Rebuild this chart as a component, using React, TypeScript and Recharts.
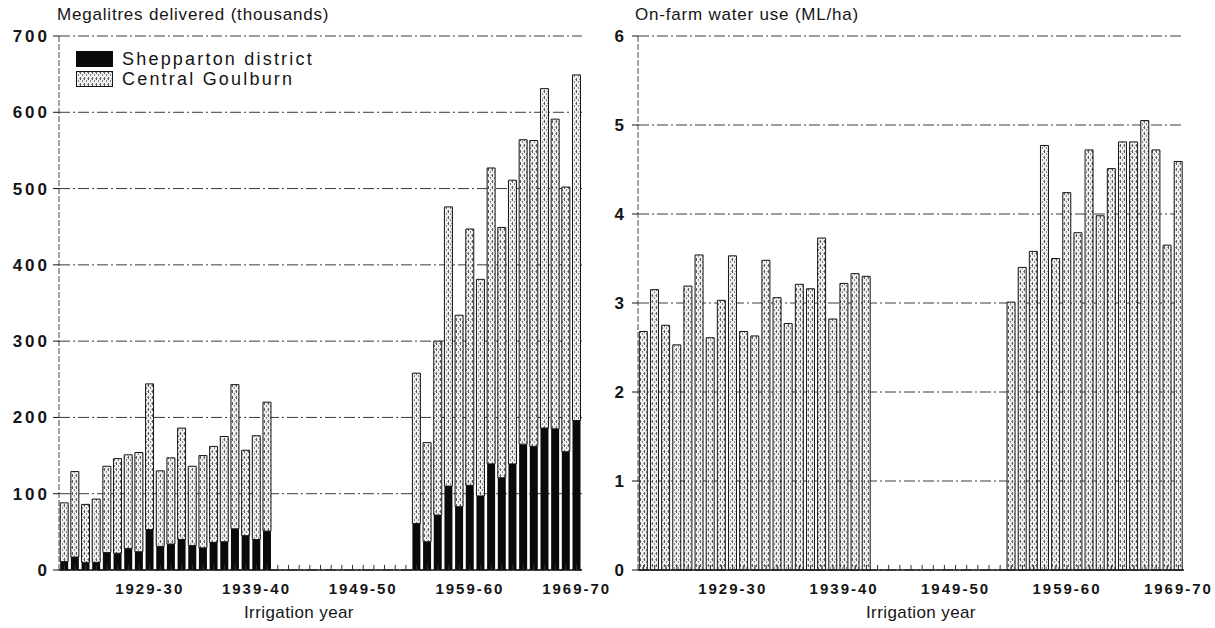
import React from 'react'
import { BarChart, Bar, XAxis, YAxis, CartesianGrid } from 'recharts'

const YEARS = [
  '1921-22', '1922-23', '1923-24', '1924-25', '1925-26', '1926-27', '1927-28', '1928-29', '1929-30', '1930-31',
  '1931-32', '1932-33', '1933-34', '1934-35', '1935-36', '1936-37', '1937-38', '1938-39', '1939-40', '1940-41',
  '1941-42', '1942-43', '1943-44', '1944-45', '1945-46', '1946-47', '1947-48', '1948-49', '1949-50', '1950-51',
  '1951-52', '1952-53', '1953-54', '1954-55', '1955-56', '1956-57', '1957-58', '1958-59', '1959-60', '1960-61',
  '1961-62', '1962-63', '1963-64', '1964-65', '1965-66', '1966-67', '1967-68', '1968-69', '1969-70',
]

const YEAR_TICKS = ['1929-30', '1939-40', '1949-50', '1959-60', '1969-70']

// thousand ML, black segment
const SHEPPARTON = [
  11, 17, 10, 10, 23, 22, 28, 24, 53, 31, 34, 40, 32, 29, 36, 37, 54, 45, 40, 51,
  null, null, null, null, null, null, null, null, null, null, null, null, null,
  61, 37, 72, 110, 83, 111, 97, 139, 121, 139, 165, 162, 186, 185, 155, 196,
]

// thousand ML, stippled segment on top
const CENTRAL_GOULBURN = [
  77, 112, 76, 83, 113, 124, 123, 130, 191, 99, 113, 146, 104, 121, 126, 138, 189, 112, 136, 169,
  null, null, null, null, null, null, null, null, null, null, null, null, null,
  197, 130, 228, 366, 251, 336, 284, 388, 328, 372, 399, 401, 445, 406, 347, 453,
]

// ML/ha
const ON_FARM = [
  2.68, 3.15, 2.75, 2.53, 3.19, 3.54, 2.61, 3.03, 3.53, 2.68, 2.63, 3.48, 3.06, 2.77, 3.21, 3.16, 3.73, 2.82, 3.22, 3.33,
  3.3, null, null, null, null, null, null, null, null, null, null, null, null,
  3.01, 3.4, 3.58, 4.77, 3.5, 4.24, 3.79, 4.72, 3.98, 4.51, 4.81, 4.81, 5.05, 4.72, 3.65, 4.59,
]

const LEFT_TICKS = [0, 100, 200, 300, 400, 500, 600, 700]
const RIGHT_TICKS = [0, 1, 2, 3, 4, 5, 6]

const deliveries = YEARS.map((year, i) => ({ year, shep: SHEPPARTON[i], central: CENTRAL_GOULBURN[i] }))
const waterUse = YEARS.map((year, i) => ({ year, use: ON_FARM[i] }))

const FONT = '"Liberation Sans", Arial, Helvetica, sans-serif'
const INK = '#151515'
const GRID = { stroke: '#3a3a3a', strokeDasharray: '11 3 2 3', strokeWidth: 1 }
const X_TICK = { fill: INK, fontSize: 15, fontWeight: 700, letterSpacing: 2 }
const Y_TICK = { fill: INK, fontSize: 17, fontWeight: 700, letterSpacing: 3 }
const LABEL = { position: 'absolute' as const, fontSize: 17, letterSpacing: 0.8 }

const fmtYear = (v: string) => (YEAR_TICKS.includes(v) ? v : '')

function Stipple({ id }: { id: string }) {
  return (
    <pattern id={id} width="4" height="6" patternUnits="userSpaceOnUse">
      <rect width="4" height="6" fill="#f0f0f0" />
      <rect x="0" y="0" width="1" height="3" fill="#5e5e5e" />
      <rect x="2" y="3" width="1" height="2" fill="#858585" />
      <rect x="3" y="1" width="1" height="1" fill="#9a9a9a" />
    </pattern>
  )
}

function Frame({ plotId }: { plotId: string }) {
  // year axis: labels below, short ticks pointing up; plus top border and dashed right border
  return [
    <XAxis
      key="x"
      dataKey="year"
      interval={0}
      tickFormatter={fmtYear}
      tick={X_TICK}
      tickLine={{ stroke: '#333' }}
      tickSize={-5}
      tickMargin={18}
      height={30}
      axisLine={{ stroke: INK, strokeWidth: 1.5 }}
    />,
    <XAxis key="xt" xAxisId="top" orientation="top" dataKey="year" tick={false} tickLine={false} height={0}
      axisLine={{ stroke: INK, strokeWidth: 1.2 }} />,
    <YAxis key="yr" yAxisId={`${plotId}-r`} orientation="right" type="number" domain={[0, 1]} tick={false}
      tickLine={false} width={0} axisLine={{ stroke: '#444', strokeDasharray: '6 3' }} />,
  ]
}

export default function App() {
  return (
    <div style={{ position: 'absolute', left: 0, top: 0, width: 1215, height: 628, background: '#fff', fontFamily: FONT, color: INK }}>
      {/* Left: deliveries */}
      <div style={{ ...LABEL, left: 57, top: 5 }}>Megalitres delivered (thousands)</div>
      <div style={{ position: 'absolute', left: 0, top: 0 }}>
        <BarChart width={612} height={628} data={deliveries} margin={{ top: 36, right: 30, bottom: 28, left: 9 }}
          barCategoryGap="11%">
          <defs>
            <Stipple id="stip-a" />
          </defs>
          <CartesianGrid vertical={false} {...GRID} />
          {Frame({ plotId: 'a' })}
          <YAxis
            domain={[0, 700]}
            ticks={LEFT_TICKS}
            interval={0}
            width={50}
            tick={Y_TICK}
            tickSize={6}
            tickMargin={3}
            tickLine={{ stroke: INK }}
            axisLine={{ stroke: '#444', strokeDasharray: '6 2' }}
          />
          <Bar dataKey="shep" stackId="s" fill="#0a0a0a" isAnimationActive={false} />
          <Bar dataKey="central" stackId="s" fill="url(#stip-a)" stroke={INK} strokeWidth={1} isAnimationActive={false} />
        </BarChart>
      </div>
      <div style={{ position: 'absolute', left: 76, top: 51, width: 37, height: 16, background: '#0a0a0a' }} />
      <div style={{ position: 'absolute', left: 122, top: 49, fontSize: 18, letterSpacing: 2.2 }}>Shepparton district</div>
      <svg style={{ position: 'absolute', left: 76, top: 71 }} width={37} height={16}>
        <defs>
          <Stipple id="stip-l" />
        </defs>
        <rect x={0.5} y={0.5} width={36} height={15} fill="url(#stip-l)" stroke={INK} />
      </svg>
      <div style={{ position: 'absolute', left: 122, top: 69, fontSize: 18, letterSpacing: 2.2 }}>Central Goulburn</div>
      <div style={{ ...LABEL, left: 244, top: 603, letterSpacing: 0.4 }}>Irrigation year</div>

      {/* Right: on-farm use */}
      <div style={{ ...LABEL, left: 635, top: 5 }}>On-farm water use (ML/ha)</div>
      <div style={{ position: 'absolute', left: 612, top: 0 }}>
        <BarChart width={603} height={628} data={waterUse} margin={{ top: 36, right: 31, bottom: 28, left: 6 }}
          barCategoryGap="12%">
          <defs>
            <Stipple id="stip-b" />
          </defs>
          <CartesianGrid vertical={false} {...GRID} />
          {Frame({ plotId: 'b' })}
          <YAxis
            domain={[0, 6]}
            ticks={RIGHT_TICKS}
            interval={0}
            width={20}
            tick={Y_TICK}
            tickSize={6}
            tickMargin={5}
            tickLine={{ stroke: INK }}
            axisLine={{ stroke: '#444', strokeDasharray: '6 2' }}
          />
          <Bar dataKey="use" fill="url(#stip-b)" stroke={INK} strokeWidth={1} isAnimationActive={false} />
        </BarChart>
      </div>
      <div style={{ ...LABEL, left: 866, top: 603, letterSpacing: 0.4 }}>Irrigation year</div>
    </div>
  )
}
